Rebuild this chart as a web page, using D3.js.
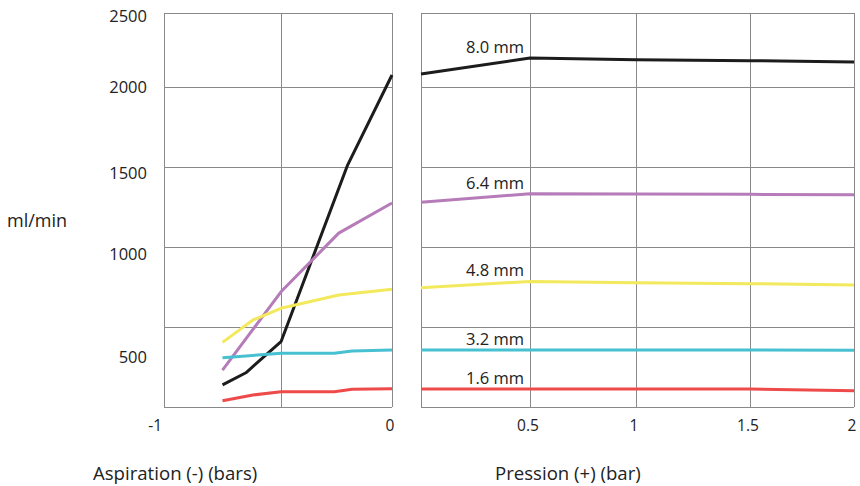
<!DOCTYPE html>
<html>
<head>
<meta charset="utf-8">
<script src="https://cdnjs.cloudflare.com/ajax/libs/d3/7.8.5/d3.min.js"></script>
<style>
  body { margin: 0; background: #fff; }
  svg { font-family: "Open Sans", sans-serif; }
  .grid line { stroke: #898989; stroke-width: 1; }
  .grid .domain { display: none; }
  .grid text { display: none; }
</style>
</head>
<body>
<svg id="chart" width="860" height="486"></svg>
<script>
// tube sizes, one colour each
var tubes = ["8.0 mm", "6.4 mm", "4.8 mm", "3.2 mm", "1.6 mm"];
var colors = ["#1c1c1c", "#b67bb9", "#f2e95c", "#47c1d1", "#ef4a4a"];

// aspiration side (bar, negative), each tube has its own points
var aspX = [
  [-0.75, -0.65, -0.5, -0.2, 0],
  [-0.75, -0.5, -0.24, 0],
  [-0.75, -0.62, -0.5, -0.24, 0],
  [-0.75, -0.5, -0.26, -0.18, 0],
  [-0.75, -0.62, -0.5, -0.26, -0.18, 0]
];
var aspFlow = [
  [138, 214, 408, 1512, 2081],
  [231, 720, 1087, 1275],
  [404, 544, 617, 700, 736],
  [308, 336, 336, 350, 356],
  [39, 75, 96, 96, 111, 114]
];

// pressure side (bar)
var presX = [0, 0.5, 1, 1.5, 2];
var presFlow = [
  [2088, 2196, 2184, 2178, 2169],
  [1279, 1333, 1331, 1329, 1327],
  [746, 785, 777, 771, 762],
  [356, 356, 356, 356, 354],
  [112, 112, 112, 112, 102]
];

var gridFlow = [0, 500, 1000, 1500, 2000, 2500];
var aspTicks = [-1, -0.5, 0];
var aspTickLabels = ["-1", "", "0"];
var presTicks = [0, 0.5, 1, 1.5, 2];
var presTickLabels = ["", "0.5", "1", "1.5", "2"];
// the printed flow labels do not sit on the grid lines in the original
var flowLabels = ["2500", "2000", "1500", "1000", "500"];
var flowLabelAt = [2480, 2000, 1460, 955, 312];

var svg = d3.select("#chart");
var plotTop = 13, plotBottom = 407;

var y = d3.scaleLinear().domain([0, 2000, 2500]).range([plotBottom, 87, plotTop]);
var xAsp = d3.scaleLinear().domain([-1, -0.5, 0]).range([164, 281, 392]);
var xPres = d3.scaleLinear().domain([0, 0.5, 1, 1.5, 2]).range([421, 530, 636, 750, 854]);

function drawPanel(x, ticks, tickLabels, xs, flows) {
  var x0 = x.range()[0], x1 = x.range()[x.range().length - 1];
  var g = svg.append("g");

  g.append("g")
    .attr("class", "grid")
    .attr("transform", "translate(0," + plotBottom + ")")
    .call(d3.axisBottom(x).tickValues(ticks).tickSize(-(plotBottom - plotTop)).tickFormat(""));

  g.append("g")
    .attr("class", "grid")
    .attr("transform", "translate(" + x0 + ",0)")
    .call(d3.axisLeft(y).tickValues(gridFlow).tickSize(-(x1 - x0)).tickFormat(""));

  g.selectAll(".tlab")
    .data(ticks)
    .enter()
    .append("text")
    .attr("class", "tlab")
    .attr("x", d => x(d) - 2)
    .attr("y", 431)
    .attr("text-anchor", (d, i) => i == 0 ? "end" : "middle")
    .attr("font-size", "15.5px")
    .attr("fill", "#222")
    .text((d, i) => tickLabels[i]);

  var line = d3.line()
    .x(d => x(d[0]))
    .y(d => y(d[1]));

  flows.forEach(function(f, k) {
    var pts = f.map((v, i) => [Array.isArray(xs[0]) ? xs[k][i] : xs[i], v]);
    g.append("path")
      .datum(pts)
      .attr("fill", "none")
      .attr("stroke", colors[k])
      .attr("stroke-width", 3)
      .attr("stroke-linejoin", "round")
      .attr("d", line);
  });
  return g;
}

drawPanel(xAsp, aspTicks, aspTickLabels, aspX, aspFlow);
var pg = drawPanel(xPres, presTicks, presTickLabels, presX, presFlow);

// tube labels just above each line at 0.5 bar
pg.selectAll(".tube")
  .data(tubes)
  .enter()
  .append("text")
  .attr("class", "tube")
  .attr("x", xPres(0.5) - 6)
  .attr("y", (d, i) => y(presFlow[i][1]) - 5)
  .attr("text-anchor", "end")
  .attr("font-size", "16.5px")
  .attr("fill", "#222")
  .text(d => d);

svg.selectAll(".flab")
  .data(flowLabels)
  .enter()
  .append("text")
  .attr("class", "flab")
  .attr("x", 147)
  .attr("y", (d, i) => y(flowLabelAt[i]))
  .attr("dy", "0.36em")
  .attr("text-anchor", "end")
  .attr("font-size", "16.5px")
  .attr("fill", "#222")
  .text(d => d);

svg.append("text")
  .attr("x", 7)
  .attr("y", 227)
  .attr("font-size", "18px")
  .attr("fill", "#222")
  .text("ml/min");

svg.append("text")
  .attr("x", 93)
  .attr("y", 480)
  .attr("font-size", "18.6px")
  .attr("fill", "#222")
  .text("Aspiration (-) (bars)");

svg.append("text")
  .attr("x", 495)
  .attr("y", 480)
  .attr("font-size", "18.6px")
  .attr("fill", "#222")
  .text("Pression (+) (bar)");
</script>
</body>
</html>
